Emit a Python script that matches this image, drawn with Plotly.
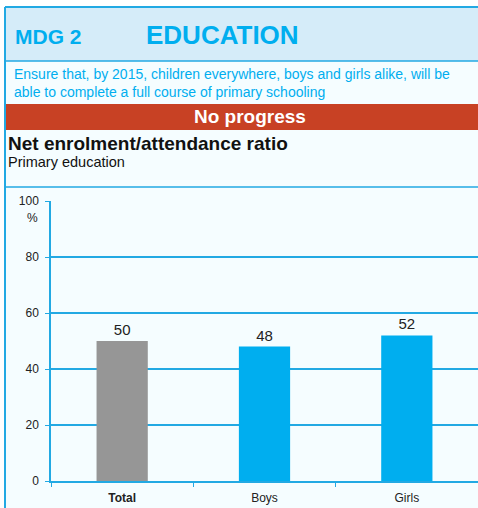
import plotly.graph_objects as go

categories = ["<b>Total</b>", "Boys", "Girls"]
values = [50, 48, 52]
bar_colors = ["#969696", "#00AEEF", "#00AEEF"]
y_ticks = [0, 20, 40, 60, 80, 100]

W, H = 478, 508
L, R, T, B = 51, 0, 201, 27
BLUE = "#00AEEF"
LINE = "#22A9E3"
PANEL = "#F5FDFF"


def px(x):
    return (x - L) / (W - L - R)


def py(y):
    return (H - B - y) / (H - T - B)


fig = go.Figure()
fig.add_trace(go.Bar(
    x=categories,
    y=values,
    marker=dict(color=bar_colors, line=dict(width=0)),
    width=0.36,
    text=[str(v) for v in values],
    textposition="outside",
    textfont=dict(size=15, color="#222222"),
    cliponaxis=False,
))

shapes = [
    # light panel
    dict(type="rect", x0=px(5), x1=px(482), y0=py(7), y1=py(512),
         fillcolor=PANEL, line=dict(width=0), layer="below"),
    # header band
    dict(type="rect", x0=px(5), x1=px(482), y0=py(7), y1=py(61),
         fillcolor="#D5ECF9", line=dict(width=0), layer="below"),
    # red status band
    dict(type="rect", x0=px(5), x1=px(482), y0=py(104), y1=py(130),
         fillcolor="#C84124", line=dict(width=0), layer="below"),
    # borders
    dict(type="line", x0=px(5), x1=px(482), y0=py(7), y1=py(7), line=dict(color=LINE, width=2)),
    dict(type="line", x0=px(5), x1=px(482), y0=py(61), y1=py(61), line=dict(color=LINE, width=1.5)),
    dict(type="line", x0=px(5), x1=px(482), y0=py(187), y1=py(187), line=dict(color=LINE, width=1.5)),
    dict(type="line", x0=px(5), x1=px(5), y0=py(7), y1=py(512), line=dict(color=LINE, width=2)),
]

annotations = [
    dict(text="<b>MDG 2</b>", x=px(13), y=py(36), xanchor="left", yanchor="middle",
         font=dict(size=21, color=BLUE)),
    dict(text="<b>EDUCATION</b>", x=px(144), y=py(35), xanchor="left", yanchor="middle",
         font=dict(size=26, color=BLUE)),
    dict(text="Ensure that, by 2015, children everywhere, boys and girls alike, will be<br>"
              "able to complete a full course of primary schooling",
         x=px(12), y=py(83), xanchor="left", yanchor="middle", align="left",
         font=dict(size=14, color=BLUE)),
    dict(text="<b>No progress</b>", x=px(250), y=py(117), xanchor="center", yanchor="middle",
         font=dict(size=19, color="white")),
    dict(text="<b>Net enrolment/attendance ratio</b>", x=px(6), y=py(143), xanchor="left",
         yanchor="middle", font=dict(size=19, color="#111111")),
    dict(text="Primary education", x=px(6), y=py(162), xanchor="left", yanchor="middle",
         font=dict(size=14.5, color="#111111")),
    dict(text="%", x=px(40), y=py(218), xanchor="right", yanchor="middle",
         font=dict(size=12, color="#222222")),
]
for a in annotations:
    a.update(xref="paper", yref="paper", showarrow=False)
for s in shapes:
    s.update(xref="paper", yref="paper")

fig.update_layout(
    width=W, height=H,
    margin=dict(l=L, r=R, t=T, b=B, pad=0),
    paper_bgcolor="white",
    plot_bgcolor=PANEL,
    font=dict(family="Arial, Liberation Sans", color="#222222"),
    showlegend=False,
    shapes=shapes,
    annotations=annotations,
    xaxis=dict(
        showgrid=False, showline=True, linecolor=LINE, linewidth=2,
        ticks="outside", tickson="boundaries", ticklen=4, tickcolor=LINE,
        ticklabelstandoff=5,
        tickfont=dict(size=12, color="#222222"), fixedrange=True,
    ),
    yaxis=dict(
        range=[0, 100], tickvals=y_ticks, showgrid=True, gridcolor=LINE, gridwidth=1.5,
        showline=True, linecolor=LINE, linewidth=1.5, zeroline=False,
        ticks="outside", ticklen=4, tickcolor=LINE, ticklabelstandoff=4,
        tickfont=dict(size=12, color="#222222"), fixedrange=True,
    ),
)

# the page body has an 8px default margin; drop it so the figure sits at the window's corner
fig.write_html("out.html", config=dict(displayModeBar=False),
               post_script="document.body.style.margin='0';")
